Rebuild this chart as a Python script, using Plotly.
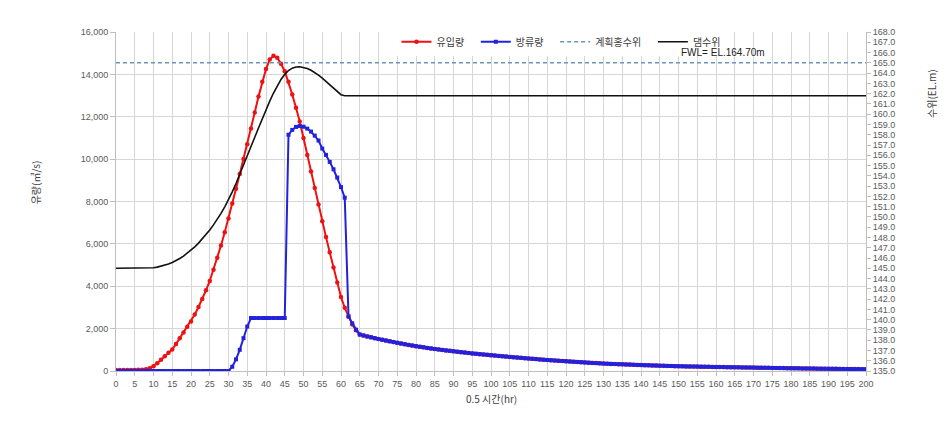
import plotly.graph_objects as go

# 0.5-hour time steps
time_steps = list(range(0, 201))

# inflow (유입량) rising/falling limb, steps 0..64
inflow_head = [50, 50, 50, 50, 50, 50, 55, 60, 80, 130,
               230, 370, 530, 700, 860, 1020, 1270, 1540, 1820, 2090,
               2340, 2670, 3020, 3400, 3810, 4250, 4780, 5350, 5920, 6550,
               7200, 7900, 8600, 9300, 10000, 10700, 11450, 12200, 12950, 13650,
               14250, 14700, 14880, 14780, 14500, 14150, 13650, 13050, 12420, 11780,
               11000, 10200, 9420, 8640, 7860, 7070, 6320, 5600, 4890, 4180,
               3490, 2980, 2560, 2200, 1920]

# outflow (방류량) steps 0..64
outflow_head = [0, 0, 0, 0, 0, 0, 0, 0, 0, 0,
                0, 0, 0, 0, 0, 0, 0, 0, 0, 0,
                0, 0, 0, 0, 0, 0, 0, 0, 0, 0,
                0, 200, 550, 1000, 1550, 2100, 2500, 2500, 2500, 2500,
                2500, 2500, 2500, 2500, 2500, 2500, 11150, 11380, 11520, 11560,
                11530, 11440, 11300, 11110, 10880, 10500, 10200, 9870, 9520, 9130,
                8680, 8180, 2580, 2250, 1950]

# common recession (inflow = outflow), steps 65..200
recession = [1720, 1675, 1630, 1590, 1550, 1510, 1473, 1436, 1400, 1365,
             1330, 1297, 1265, 1233, 1200, 1170, 1143, 1117, 1090, 1065,
             1040, 1018, 995, 973, 951, 930, 910, 890, 870, 850,
             830, 813, 796, 779, 762, 745, 729, 713, 697, 681,
             665, 650, 635, 620, 605, 590, 576, 562, 548, 534,
             520, 508, 496, 484, 472, 460, 449, 438, 427, 416,
             405, 394, 383, 372, 361, 350, 343, 336, 329, 322,
             315, 308, 301, 294, 287, 280, 274, 269, 263, 258,
             252, 247, 241, 236, 230, 225, 221, 218, 214, 211,
             207, 204, 200, 197, 193, 190, 187, 184, 181, 178,
             175, 172, 169, 166, 163, 160, 157, 154, 151, 148,
             145, 142, 139, 136, 133, 130, 127, 125, 122, 120,
             117, 115, 112, 110, 107, 105, 103, 101, 99, 97,
             95, 93, 91, 89, 87, 85]

inflow = inflow_head + recession
outflow = outflow_head + recession

# dam water level (댐수위), EL.m
level_steps = list(range(0, 62)) + [200]
level = [145.0, 145.0, 145.0, 145.0, 145.0, 145.0, 145.0, 145.0, 145.0, 145.02,
         145.05, 145.11, 145.19, 145.29, 145.41, 145.56, 145.74, 145.95, 146.19, 146.46,
         146.76, 147.09, 147.45, 147.84, 148.26, 148.72, 149.22, 149.76, 150.34, 150.98,
         151.67, 152.43, 153.25, 154.12, 155.02, 155.93, 156.84, 157.75, 158.66, 159.56,
         160.43, 161.27, 162.06, 162.77, 163.38, 163.88, 164.25, 164.48, 164.6, 164.62,
         164.56, 164.44, 164.27, 164.05, 163.8, 163.51, 163.2, 162.87, 162.53, 162.18,
         161.9, 161.8, 161.8]

# planned flood level (계획홍수위)
plan_steps = [0, 200]
plan_level = [165.0, 165.0]

x_ticks = list(range(0, 201, 5))

pad = "\u00a0\u00a0\u00a0"
fig = go.Figure()
fig.add_trace(go.Scatter(x=time_steps, y=inflow, name="유입량" + pad, mode="lines+markers",
                         line=dict(color="#ee1111", width=2),
                         marker=dict(color="#ee1111", size=4.5, symbol="circle")))
fig.add_trace(go.Scatter(x=time_steps, y=outflow, name="방류량" + pad, mode="lines+markers",
                         line=dict(color="#2222dd", width=2),
                         marker=dict(color="#2222dd", size=4, symbol="square")))
fig.add_trace(go.Scatter(x=plan_steps, y=plan_level, name="계획홍수위" + pad, mode="lines",
                         line=dict(color="#6c95bd", width=1.5, dash="4px,3px"), yaxis="y2"))
fig.add_trace(go.Scatter(x=level_steps, y=level, name="댐수위" + pad, mode="lines",
                         line=dict(color="#111111", width=1.6),
                         yaxis="y2"))

grid = "#d6d6d6"
fig.update_layout(
    width=948, height=426,
    margin=dict(l=116, r=82, t=32, b=55),
    paper_bgcolor="white", plot_bgcolor="white",
    font=dict(family="Liberation Sans, Noto Sans CJK KR", size=9, color="#595959"),
    showlegend=True,
    legend=dict(orientation="h", x=0.374, y=1.014, xanchor="left", yanchor="top",
                bgcolor="white", font=dict(family="Noto Sans CJK KR", size=10, color="#404040"),
                itemwidth=30, tracegroupgap=0),
    xaxis=dict(range=[0, 200], tickvals=x_ticks, ticktext=[str(v) for v in x_ticks],
               showgrid=True, gridcolor=grid, gridwidth=1,
               showline=True, linecolor="#bfbfbf", ticks="outside", ticklen=4,
               tickcolor="#bfbfbf", zeroline=False, tickangle=0),
    yaxis=dict(range=[0, 16000], dtick=2000, tickformat=",", showgrid=True,
               gridcolor=grid, gridwidth=1, showline=True, linecolor="#bfbfbf",
               ticks="outside", ticklen=5, tickcolor="#bfbfbf", zeroline=False),
    yaxis2=dict(range=[135, 168], dtick=1, tickformat=".1f", overlaying="y",
                side="right", showgrid=False, showline=True, linecolor="#bfbfbf",
                ticks="outside", ticklen=4, tickcolor="#bfbfbf", zeroline=False),
    annotations=[
        dict(text="유량(㎥/s)", xref="paper", yref="paper", x=-0.12, y=0.555,
             textangle=-90, showarrow=False, font=dict(family="Noto Sans CJK KR", size=10, color="#404040")),
        dict(text="수위(EL.m)", xref="paper", yref="paper", x=1.1, y=0.897,
             textangle=-90, showarrow=False, font=dict(family="Noto Sans CJK KR", size=10, color="#404040")),
        dict(text="0.5 시간(hr)", xref="paper", yref="paper", x=0.5, y=-0.108,
             showarrow=False, font=dict(family="Noto Sans CJK KR", size=10, color="#404040")),
        dict(text="FWL= EL.164.70m", xref="paper", yref="paper", x=0.751, y=0.941,
             xanchor="left", yanchor="middle", showarrow=False,
             font=dict(family="Liberation Sans", size=10, color="#222222")),
    ],
)

fig.write_html("out.html")
